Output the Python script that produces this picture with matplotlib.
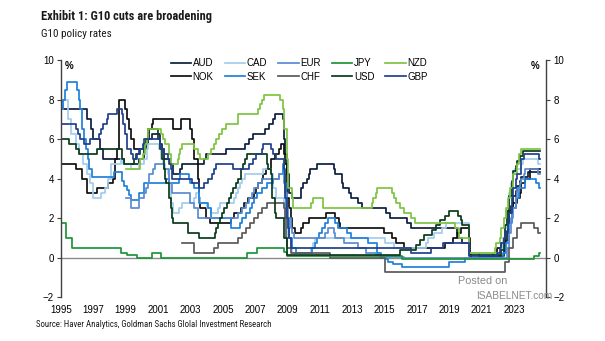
import matplotlib
matplotlib.use('Agg')
import matplotlib.pyplot as plt
import matplotlib.font_manager as fm

# policy rates, change dates as decimal years and the new rate
end_year = 2024.62

aud_t = [1995.0, 1996.6, 1996.85, 1996.95, 1997.4, 1997.6, 1998.9, 1999.85, 2000.1, 2000.25, 2000.35, 2000.65,
         2001.1, 2001.25, 2001.35, 2001.75, 2001.95, 2002.35, 2002.45, 2003.85, 2003.95, 2005.2, 2006.4, 2006.6,
         2006.85, 2007.6, 2007.85, 2008.1, 2008.2, 2008.7, 2008.8, 2008.85, 2008.95, 2009.1, 2009.3, 2009.8,
         2009.85, 2009.95, 2010.2, 2010.3, 2010.4, 2010.85, 2011.85, 2011.95, 2012.35, 2012.45, 2012.8, 2012.95,
         2013.35, 2013.6, 2015.1, 2015.35, 2016.35, 2016.6, 2019.45, 2019.55, 2019.8, 2020.2, 2020.85, 2022.35,
         2022.45, 2022.55, 2022.65, 2022.7, 2022.8, 2022.9, 2022.95, 2023.1, 2023.2, 2023.35, 2023.45, 2023.85]
aud_v = [7.5, 7.0, 6.5, 6.0, 5.5, 5.0, 4.75, 5.0, 5.5, 5.75, 6.0, 6.25,
         5.75, 5.5, 5.0, 4.75, 4.25, 4.5, 4.75, 5.0, 5.25, 5.5, 5.75, 6.0,
         6.25, 6.5, 6.75, 7.0, 7.25, 7.0, 6.0, 5.25, 4.25, 3.25, 3.0, 3.25,
         3.5, 3.75, 4.0, 4.25, 4.5, 4.75, 4.5, 4.25, 3.75, 3.5, 3.25, 3.0,
         2.75, 2.5, 2.25, 2.0, 1.75, 1.5, 1.25, 1.0, 0.75, 0.25, 0.1, 0.35,
         0.85, 1.35, 1.85, 2.35, 2.6, 2.85, 3.1, 3.35, 3.6, 3.85, 4.1, 4.35]

cad_t = [1995.0, 1995.15, 1995.45, 1995.6, 1995.9, 1996.1, 1996.35, 1996.6, 1996.8, 1996.95, 1997.0, 1997.5,
         1997.75, 1997.9, 1998.1, 1998.7, 1998.85, 1999.3, 1999.85, 2000.1, 2000.3, 2000.4, 2001.05, 2001.2,
         2001.3, 2001.4, 2001.6, 2001.7, 2001.8, 2001.95, 2002.3, 2002.45, 2003.2, 2003.35, 2003.5, 2003.6,
         2004.05, 2004.3, 2004.7, 2004.8, 2005.7, 2005.8, 2005.95, 2006.05, 2006.2, 2006.35, 2007.5, 2007.95,
         2008.1, 2008.3, 2008.8, 2008.85, 2008.95, 2009.05, 2009.2, 2009.3, 2010.45, 2010.55, 2010.7, 2015.05,
         2015.55, 2017.55, 2017.7, 2018.05, 2018.55, 2018.8, 2020.2, 2022.2, 2022.3, 2022.45, 2022.55, 2022.7,
         2022.8, 2022.95, 2023.05, 2023.45, 2023.55, 2024.45]
cad_v = [7.5, 8.0, 7.0, 6.25, 5.75, 5.25, 4.75, 4.25, 3.75, 3.25, 3.0, 3.25,
         3.5, 4.0, 4.75, 5.0, 4.75, 4.5, 4.75, 5.0, 5.5, 5.75, 5.5, 5.0,
         4.75, 4.5, 4.25, 3.75, 2.75, 2.25, 2.5, 2.75, 3.0, 3.25, 3.0, 2.75,
         2.5, 2.25, 2.5, 2.75, 3.0, 3.25, 3.5, 3.75, 4.0, 4.25, 4.5, 4.25,
         3.5, 3.0, 2.5, 2.25, 1.5, 1.0, 0.5, 0.25, 0.5, 0.75, 1.0, 0.75,
         0.5, 0.75, 1.0, 1.25, 1.5, 1.75, 0.25, 0.5, 1.0, 1.5, 2.5, 3.25,
         3.75, 4.25, 4.5, 4.75, 5.0, 4.75]

eur_t = [1999.0, 1999.3, 1999.85, 2000.1, 2000.25, 2000.35, 2000.45, 2000.7, 2000.8, 2001.35, 2001.65, 2001.7,
         2001.85, 2002.95, 2003.2, 2003.45, 2005.95, 2006.2, 2006.45, 2006.6, 2006.8, 2006.95, 2007.2, 2007.45,
         2008.5, 2008.8, 2008.85, 2008.95, 2009.05, 2009.2, 2009.3, 2009.4, 2011.3, 2011.5, 2011.85, 2011.95,
         2012.5, 2013.35, 2013.85, 2014.45, 2014.7, 2016.2, 2022.55, 2022.7, 2022.8, 2022.95, 2023.1, 2023.2,
         2023.35, 2023.45, 2023.6, 2023.7, 2024.45]
eur_v = [3.0, 2.5, 3.0, 3.25, 3.5, 3.75, 4.25, 4.5, 4.75, 4.5, 4.25, 3.75,
         3.25, 2.75, 2.5, 2.0, 2.25, 2.5, 2.75, 3.0, 3.25, 3.5, 3.75, 4.0,
         4.25, 3.75, 3.25, 2.5, 2.0, 1.5, 1.25, 1.0, 1.25, 1.5, 1.25, 1.0,
         0.75, 0.5, 0.25, 0.15, 0.05, 0.0, 0.5, 1.25, 2.0, 2.5, 3.0, 3.5,
         3.75, 4.0, 4.25, 4.5, 4.25]

jpy_t = [1995.0, 1995.3, 1995.7, 1998.7, 1999.1, 1999.7, 2000.6, 2001.15, 2006.5, 2007.1, 2008.8, 2008.95,
         2016.1, 2024.2, 2024.55]
jpy_v = [1.75, 1.0, 0.5, 0.25, 0.15, 0.0, 0.25, 0.0, 0.25, 0.5, 0.3, 0.1,
         -0.1, 0.1, 0.25]

nzd_t = [1999.0, 1999.9, 2000.05, 2000.2, 2000.3, 2000.4, 2001.2, 2001.3, 2001.4, 2001.7, 2001.8, 2002.2,
         2002.3, 2002.35, 2002.5, 2003.2, 2003.45, 2003.6, 2004.1, 2004.3, 2004.45, 2004.55, 2004.75, 2004.95,
         2005.2, 2005.95, 2007.2, 2007.3, 2007.45, 2007.55, 2008.55, 2008.7, 2008.8, 2008.95, 2009.05, 2009.25,
         2009.35, 2010.45, 2010.55, 2011.2, 2014.2, 2014.3, 2014.45, 2014.55, 2015.45, 2015.55, 2015.7, 2015.95,
         2016.2, 2016.6, 2016.85, 2019.35, 2019.6, 2020.2, 2021.8, 2021.9, 2022.1, 2022.2, 2022.4, 2022.5,
         2022.65, 2022.75, 2022.9, 2023.15, 2023.3, 2023.4]
nzd_v = [4.5, 5.0, 5.25, 5.75, 6.0, 6.5, 6.25, 6.0, 5.75, 5.25, 4.75, 5.0,
         5.25, 5.5, 5.75, 5.5, 5.25, 5.0, 5.25, 5.5, 5.75, 6.0, 6.25, 6.5,
         6.75, 7.25, 7.5, 7.75, 8.0, 8.25, 8.0, 7.5, 6.5, 5.0, 3.5, 3.0,
         2.5, 2.75, 3.0, 2.5, 2.75, 3.0, 3.25, 3.5, 3.25, 3.0, 2.75, 2.5,
         2.25, 2.0, 1.75, 1.5, 1.0, 0.25, 0.5, 0.75, 1.0, 1.5, 2.0, 2.5,
         3.0, 3.5, 4.25, 4.75, 5.25, 5.5]

nok_t = [1995.0, 1995.9, 1996.3, 1996.6, 1997.2, 1997.9, 1998.2, 1998.35, 1998.45, 1998.6, 1998.95, 1999.05,
         1999.2, 1999.35, 1999.5, 2000.2, 2000.3, 2000.45, 2000.6, 2000.7, 2001.95, 2002.4, 2002.95, 2003.1,
         2003.2, 2003.45, 2003.5, 2003.6, 2003.95, 2004.2, 2005.5, 2005.7, 2006.1, 2006.3, 2006.55, 2006.9,
         2007.05, 2007.2, 2007.45, 2007.5, 2007.65, 2007.95, 2008.2, 2008.45, 2008.6, 2008.8, 2008.85, 2008.95,
         2009.1, 2009.2, 2009.3, 2009.45, 2009.8, 2009.95, 2010.35, 2011.35, 2011.95, 2012.2, 2012.25, 2014.95,
         2015.45, 2015.7, 2016.2, 2018.7, 2019.2, 2019.45, 2019.7, 2020.2, 2020.25, 2020.35, 2021.7, 2021.95,
         2022.2, 2022.45, 2022.6, 2022.7, 2022.85, 2022.95, 2023.2, 2023.35, 2023.45, 2023.7, 2023.95]
nok_v = [4.75, 4.5, 4.0, 3.25, 3.5, 3.75, 4.0, 5.0, 5.5, 8.0, 7.5, 7.0,
         6.5, 6.0, 5.5, 5.75, 6.0, 6.5, 6.75, 7.0, 6.5, 7.0, 6.5, 6.0,
         5.0, 4.0, 3.0, 2.5, 2.0, 1.75, 2.0, 2.25, 2.5, 2.75, 3.0, 3.25,
         3.5, 3.75, 4.0, 4.25, 4.5, 5.0, 5.25, 5.5, 5.75, 5.25, 4.75, 3.0,
         2.5, 2.0, 1.5, 1.25, 1.5, 1.75, 2.0, 2.25, 2.0, 1.75, 1.5, 1.25,
         1.0, 0.75, 0.5, 0.75, 1.0, 1.25, 1.5, 1.0, 0.25, 0.0, 0.25, 0.5,
         0.75, 1.25, 1.75, 2.25, 2.5, 2.75, 3.0, 3.25, 3.75, 4.0, 4.5]

sek_t = [1995.0, 1995.1, 1995.25, 1995.4, 1996.0, 1996.1, 1996.2, 1996.3, 1996.45, 1996.55, 1996.65, 1996.75,
         1996.9, 1998.3, 1998.75, 1998.8, 1998.9, 1999.1, 1999.2, 1999.3, 1999.85, 2000.1, 2001.5, 2001.7,
         2002.3, 2002.35, 2002.9, 2002.95, 2003.2, 2003.5, 2003.55, 2004.1, 2004.3, 2005.5, 2006.05, 2006.2,
         2006.45, 2006.65, 2006.8, 2006.95, 2007.1, 2007.45, 2007.7, 2008.1, 2008.5, 2008.7, 2008.8, 2008.85,
         2008.9, 2009.1, 2009.3, 2009.5, 2010.5, 2010.7, 2010.8, 2010.95, 2011.15, 2011.3, 2011.5, 2011.95,
         2012.1, 2012.7, 2012.95, 2013.95, 2014.5, 2014.8, 2015.1, 2015.2, 2015.5, 2016.1, 2019.0, 2019.95,
         2022.3, 2022.5, 2022.7, 2022.85, 2023.1, 2023.3, 2023.7, 2024.35, 2024.55]
sek_v = [7.5, 8.0, 8.5, 8.9, 8.5, 8.0, 7.5, 6.5, 6.0, 5.5, 5.0, 4.5,
         4.1, 4.35, 4.1, 3.85, 3.6, 3.4, 3.15, 2.9, 3.25, 3.75, 4.0, 3.75,
         4.0, 4.25, 4.0, 3.75, 3.5, 3.0, 2.75, 2.5, 2.0, 1.5, 1.75, 2.0,
         2.25, 2.5, 2.75, 3.0, 3.25, 3.5, 3.75, 4.0, 4.25, 4.75, 4.25, 3.75,
         2.0, 1.0, 0.5, 0.25, 0.5, 0.75, 1.0, 1.25, 1.5, 1.75, 2.0, 1.75,
         1.5, 1.25, 1.0, 0.75, 0.25, 0.0, -0.1, -0.25, -0.35, -0.5, -0.25, 0.0,
         0.25, 0.75, 1.75, 2.5, 3.0, 3.5, 4.0, 3.75, 3.5]

chf_t = [2002.5, 2003.2, 2004.45, 2004.7, 2005.95, 2006.2, 2006.45, 2006.7, 2006.95, 2007.2, 2007.45, 2007.7,
         2008.8, 2008.85, 2008.9, 2008.95, 2009.2, 2011.6, 2015.05, 2022.45, 2022.7, 2022.95, 2023.2, 2023.45,
         2024.2, 2024.45]
chf_v = [0.75, 0.25, 0.5, 0.75, 1.0, 1.25, 1.5, 1.75, 2.0, 2.25, 2.5, 2.75,
         2.5, 2.0, 1.0, 0.5, 0.25, 0.0, -0.75, -0.25, 0.5, 1.0, 1.5, 1.75,
         1.5, 1.25]

usd_t = [1995.0, 1995.5, 1995.95, 1996.1, 1997.2, 1998.75, 1998.8, 1998.9, 1999.5, 1999.65, 1999.9, 2000.1,
         2000.25, 2000.4, 2001.0, 2001.1, 2001.25, 2001.35, 2001.45, 2001.5, 2001.65, 2001.7, 2001.8, 2001.85,
         2001.95, 2002.85, 2003.5, 2004.5, 2004.6, 2004.7, 2004.85, 2004.95, 2005.1, 2005.25, 2005.4, 2005.5,
         2005.65, 2005.8, 2005.95, 2006.1, 2006.25, 2006.4, 2006.5, 2007.7, 2007.8, 2007.95, 2008.05, 2008.2,
         2008.3, 2008.75, 2008.8, 2008.95, 2015.95, 2016.95, 2017.2, 2017.45, 2017.95, 2018.2, 2018.45, 2018.7,
         2018.95, 2019.55, 2019.7, 2019.8, 2020.2, 2022.2, 2022.35, 2022.45, 2022.55, 2022.7, 2022.85, 2022.95,
         2023.1, 2023.2, 2023.35, 2023.55]
usd_v = [6.0, 5.75, 5.5, 5.25, 5.5, 5.25, 5.0, 4.75, 5.0, 5.25, 5.5, 5.75,
         6.0, 6.5, 6.0, 5.5, 5.0, 4.5, 4.0, 3.75, 3.5, 3.0, 2.5, 2.0,
         1.75, 1.25, 1.0, 1.25, 1.5, 1.75, 2.0, 2.25, 2.5, 2.75, 3.0, 3.25,
         3.5, 3.75, 4.0, 4.5, 4.75, 5.0, 5.25, 4.75, 4.5, 4.25, 3.0, 2.25,
         2.0, 1.5, 1.0, 0.125, 0.375, 0.625, 0.875, 1.125, 1.375, 1.625, 1.875, 2.125,
         2.375, 2.125, 1.875, 1.625, 0.125, 0.375, 0.875, 1.625, 2.375, 3.125, 3.875, 4.375,
         4.625, 4.875, 5.125, 5.375]

gbp_t = [1995.0, 1995.95, 1996.05, 1996.2, 1996.45, 1996.8, 1997.35, 1997.45, 1997.6, 1997.85, 1997.9, 1998.45,
         1998.8, 1998.85, 1998.95, 1999.05, 1999.1, 1999.3, 1999.45, 1999.7, 1999.85, 2000.05, 2000.1, 2001.1,
         2001.2, 2001.35, 2001.6, 2001.7, 2001.8, 2001.85, 2003.1, 2003.5, 2003.85, 2004.1, 2004.35, 2004.45,
         2004.6, 2005.6, 2006.6, 2006.85, 2007.05, 2007.4, 2007.5, 2007.95, 2008.1, 2008.3, 2008.75, 2008.85,
         2008.95, 2009.05, 2009.1, 2009.2, 2016.6, 2017.85, 2018.6, 2020.2, 2021.95, 2022.1, 2022.2, 2022.35,
         2022.45, 2022.6, 2022.7, 2022.85, 2022.95, 2023.1, 2023.2, 2023.4, 2023.45, 2023.6, 2024.55]
gbp_v = [6.75, 6.5, 6.25, 6.0, 5.75, 6.0, 6.25, 6.5, 6.75, 7.0, 7.25, 7.5,
         7.25, 6.75, 6.25, 6.0, 5.5, 5.25, 5.0, 5.25, 5.5, 5.75, 6.0, 5.75,
         5.5, 5.25, 5.0, 4.75, 4.5, 4.0, 3.75, 3.5, 3.75, 4.0, 4.25, 4.5,
         4.75, 4.5, 4.75, 5.0, 5.25, 5.5, 5.75, 5.5, 5.25, 5.0, 4.5, 3.0,
         2.0, 1.5, 1.0, 0.5, 0.25, 0.5, 0.75, 0.1, 0.25, 0.5, 0.75, 1.0,
         1.25, 1.75, 2.25, 3.0, 3.5, 4.0, 4.25, 4.5, 5.0, 5.25, 5.0]

# legend order in the chart: row 1 AUD CAD EUR JPY NZD, row 2 NOK SEK CHF USD GBP
series = [
    ('AUD', aud_t, aud_v, '#0c1e3e'),
    ('NOK', nok_t, nok_v, '#101010'),
    ('CAD', cad_t, cad_v, '#a2cdef'),
    ('SEK', sek_t, sek_v, '#1f80da'),
    ('EUR', eur_t, eur_v, '#5b8bd1'),
    ('CHF', chf_t, chf_v, '#5a5a5a'),
    ('JPY', jpy_t, jpy_v, '#1e9438'),
    ('USD', usd_t, usd_v, '#0a3a1c'),
    ('NZD', nzd_t, nzd_v, '#7ec443'),
    ('GBP', gbp_t, gbp_v, '#20408a'),
]


def narrow_font(bold):
    # the header/source font is a condensed sans; take one if installed
    skip = ['italic', 'oblique', 'light', 'semi', 'extra', 'black', 'medium', 'thin', 'mono']
    prefs = ['liberationsansnarrow', 'robotocondensed', 'opensanscondensed', 'notosanscondensed',
             'dejavusanscondensed', 'condensed', 'narrow']
    files = [f.fname for f in fm.fontManager.ttflist]
    for p in prefs:
        for fn in sorted(files):
            low = fn.lower().replace('-', '').replace('_', '').replace(' ', '')
            if p in low and ('bold' in low) == bold and not any(s in low for s in skip):
                return fm.FontProperties(fname=fn)
    return fm.FontProperties(family='Liberation Sans', weight='bold' if bold else 'normal')


plt.rcParams['font.family'] = ['Liberation Sans', 'DejaVu Sans']

fig = plt.figure(figsize=(6.05, 3.41), dpi=100)
ax = fig.add_axes([0.1008, 0.129, 0.8025, 0.695])

ax.axhline(0, color='#8a8a8a', lw=1.0, zorder=1)
for name, t, v, c in series:
    ax.step(t + [end_year], v + [v[-1]], where='post', color=c, lw=1.25, label=name, zorder=2)

ax.set_xlim(1995, 2025)
ax.set_ylim(-2, 10)
ax.set_xticks(range(1995, 2024, 2))
ax.set_yticks(range(-2, 11, 2))
ax.tick_params(axis='x', length=0, labelsize=7, pad=6)
ax.tick_params(axis='y', direction='out', length=3, labelsize=7, color='#404040',
               labelleft=True, labelright=True, left=True, right=True, pad=2)
for s in ['top', 'bottom']:
    ax.spines[s].set_visible(False)
for s in ['left', 'right']:
    ax.spines[s].set_color('#404040')
    ax.spines[s].set_linewidth(1.0)

ax.text(0.008, 0.995, '%', transform=ax.transAxes, fontsize=7, fontweight='bold', va='top')
ax.text(0.985, 0.995, '%', transform=ax.transAxes, fontsize=7, fontweight='bold', va='top', ha='right')

ax.legend(ncol=5, loc='upper left', bbox_to_anchor=(0.208, 1.045), frameon=False, fontsize=7,
          handlelength=2.1, handletextpad=0.15, columnspacing=1.15, labelspacing=0.35)

# header and source, sized to the widths they take in the chart
fig.canvas.draw()
renderer = fig.canvas.get_renderer()
heads = [
    ('Exhibit 1: G10 cuts are broadening', 0.068, 0.952, True, 170),
    ('G10 policy rates', 0.068, 0.90, False, 71),
    ('Source: Haver Analytics, Goldman Sachs Glolal Investment Research', 0.06, 0.047, False, 236),
]
for txt, x, y, bold, width_px in heads:
    fp = narrow_font(bold)
    fp.set_size(9)
    t = fig.text(x, y, txt, fontproperties=fp, va='center', color='#1a1a1a')
    w = t.get_window_extent(renderer).width
    fp.set_size(9 * width_px / w)
    t.set_fontproperties(fp)

# site watermark
fig.text(0.757, 0.175, 'Posted on', fontsize=7.8, color='#8a8a8a', va='center')
fig.text(0.787, 0.132, 'ISABELNET.com', fontsize=7.3, color='#8a8a8a', va='center')

fig.savefig('out.png', dpi=100)
